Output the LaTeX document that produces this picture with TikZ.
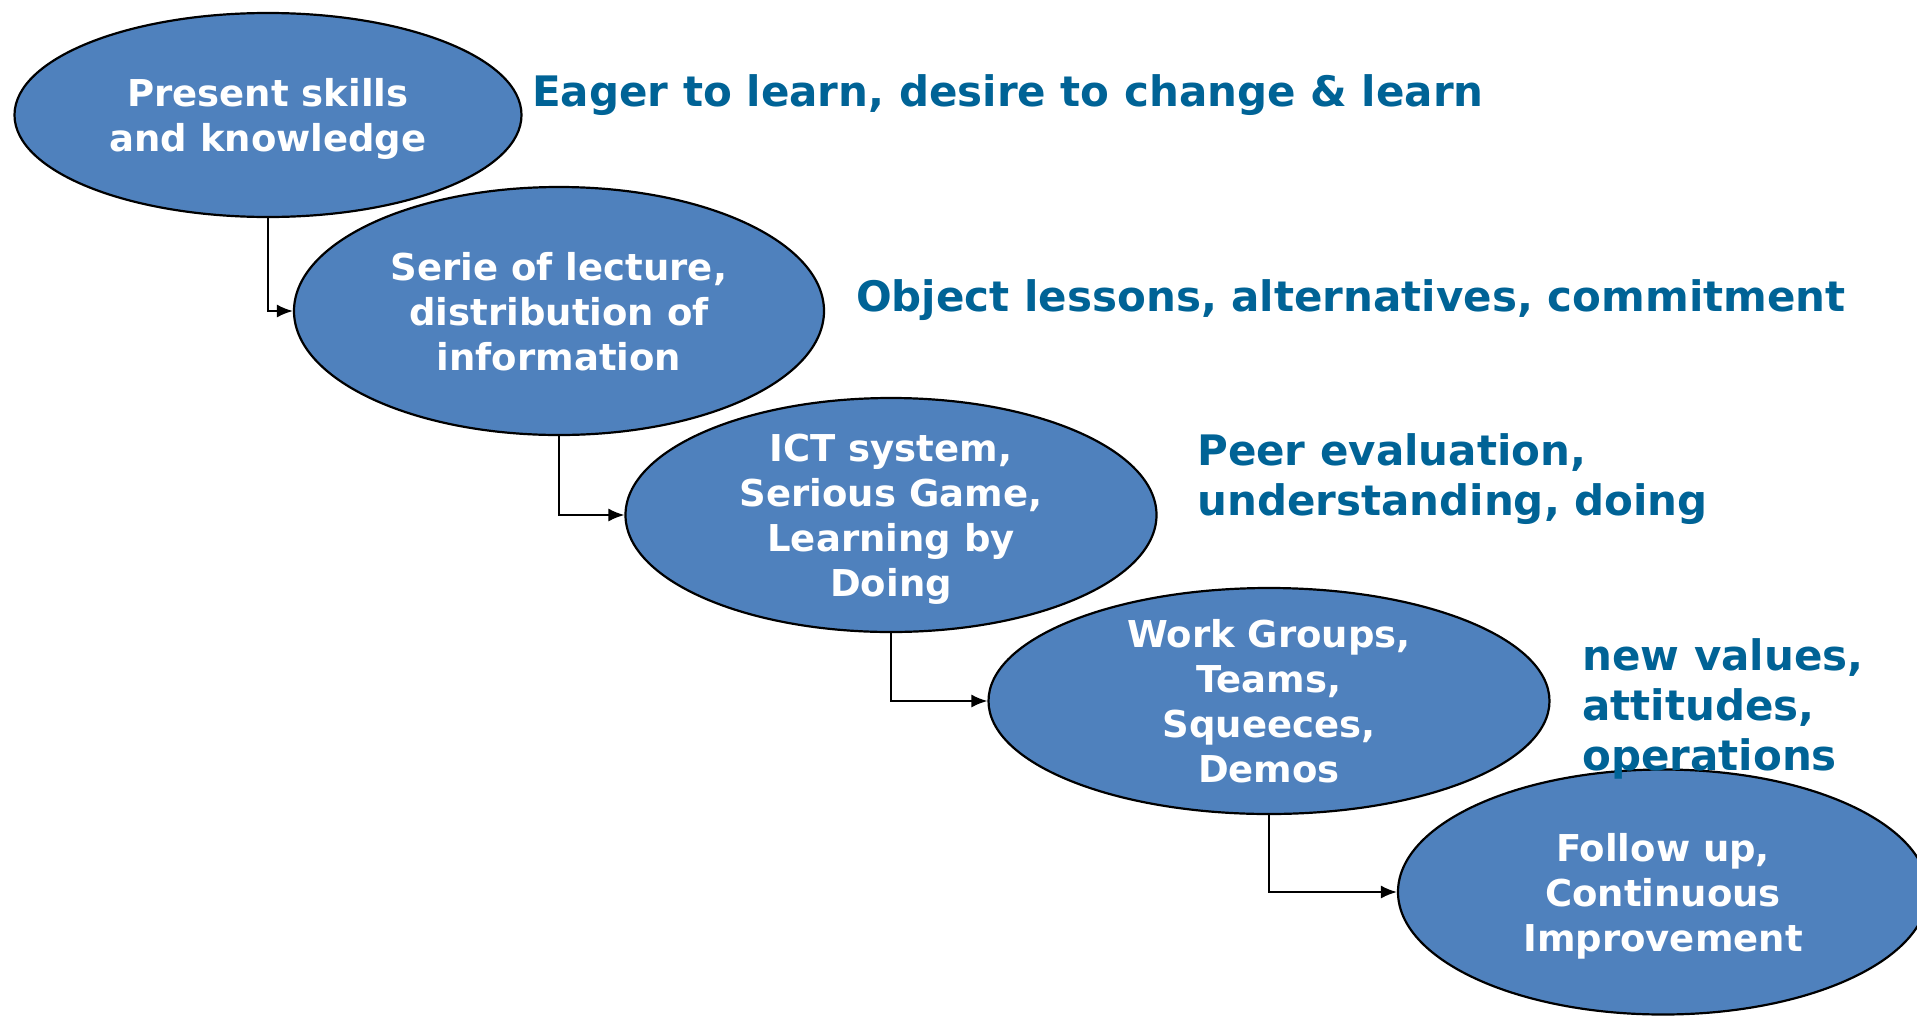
\documentclass[tikz,border=0pt]{standalone}
\usepackage{fontspec}
\setmainfont{DejaVu Sans}
\usetikzlibrary{shapes.geometric, arrows.meta}
\definecolor{stagefill}{RGB}{79,129,189}
\definecolor{notecol}{RGB}{0,99,150}
\tikzset{
  stage/.style={ellipse, draw=black, line width=2.2pt, fill=stagefill, text=white,
    font=\fontsize{37}{45}\selectfont\bfseries, align=center, inner sep=-30pt, text depth=-3pt},
  note/.style={anchor=base west, text=notecol, font=\fontsize{42}{50}\selectfont\bfseries,
    align=left, inner sep=0pt},
  conn/.style={-{Latex[length=16pt,width=13pt]}, line width=1.8pt},
}
\begin{document}
\begin{tikzpicture}[x=1pt, y=-1pt]
  \useasboundingbox (0,0) rectangle (1917,1015);

  \node[stage, minimum width=507pt, minimum height=204pt] (s1) at (268,115) {Present skills\\and knowledge};
  \node[stage, minimum width=530pt, minimum height=248pt] (s2) at (559,311) {Serie of lecture,\\distribution of\\information};
  \node[stage, minimum width=531pt, minimum height=234pt] (s3) at (891,515) {ICT system,\\Serious Game,\\Learning by\\Doing};
  \node[stage, minimum width=561pt, minimum height=226pt] (s4) at (1269,701) {Work Groups,\\Teams,\\Squeeces,\\Demos};
  \node[stage, minimum width=530pt, minimum height=245pt] (s5) at (1663,892) {Follow up,\\Continuous\\Improvement};

  % steps down the stairs
  \draw[conn] (s1.south) |- (s2.west);
  \draw[conn] (s2.south) |- (s3.west);
  \draw[conn] (s3.south) |- (s4.west);
  \draw[conn] (s4.south) |- (s5.west);

  \node[note] (n1) at (532,106) {Eager to learn, desire to change \& learn};
  \node[note] (n2) at (856,311) {Object lessons, alternatives, commitment};
  \node[note] (n3) at (1197,515) {Peer evaluation,\\understanding, doing};
  \node[note] (n4) at (1582,770) {new values,\\attitudes,\\operations};
\end{tikzpicture}
\end{document}
